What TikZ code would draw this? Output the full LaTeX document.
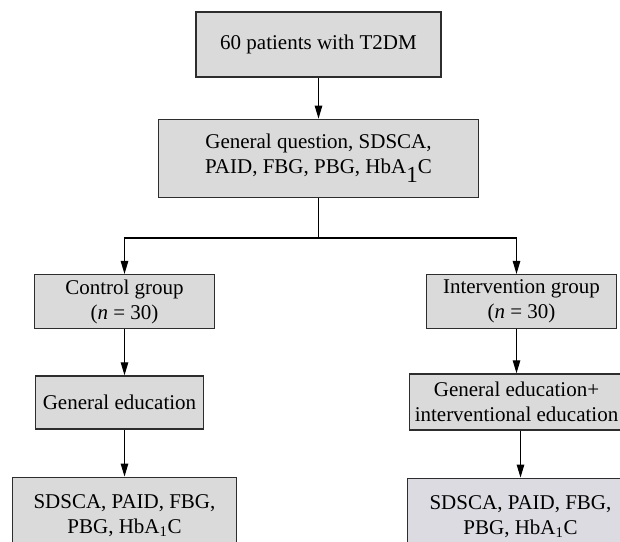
\documentclass[tikz,border=0pt]{standalone}
\usepackage{fontspec}
\usepackage{xcolor}
\setmainfont{Liberation Serif}
\usetikzlibrary{positioning,arrows.meta}
\definecolor{boxgray}{RGB}{218,218,218}
\definecolor{boxlilac}{RGB}{220,219,225}
\definecolor{boxline}{RGB}{45,45,45}
\newcommand{\droppedone}{\raisebox{-9pt}{\fontsize{23}{23}\selectfont 1}}
\tikzstyle{stage} = [rectangle,
                     inner sep=0pt,
                     align=center,
                     draw=boxline,
                     line width=1.3pt,
                     fill=boxgray,
                     font=\fontsize{21}{25}\selectfont]
\tikzstyle{outcome} = [stage,
                       inner xsep=4pt,
                       inner ysep=17pt]
\tikzstyle{arrow} = [line width=1.1pt,
                     -{Triangle[length=13pt,width=7.5pt]}]
\tikzstyle{wire} = [line width=1.1pt]

\begin{document}
\begin{tikzpicture}[x=1pt,y=1pt]

    \useasboundingbox (0,0) rectangle (620,-541);
    \clip (0,0) rectangle (620,-541);

    \node (start)    [stage, minimum width=245pt, minimum height=65pt] at (318.5,-44.5) {60 patients with T2DM};
    \node (base)     [stage, minimum width=320pt, minimum height=78pt, below=41pt of start] {General question, SDSCA,\\PAID, FBG, PBG, HbA\droppedone C};
    \node (ctrl)     [stage, minimum width=180pt, minimum height=54pt, below=76pt of base, xshift=-194pt] {Control group\\(\textit{n} = 30)};
    \node (inter)    [stage, minimum width=190pt, minimum height=54pt, below=76pt of base, xshift=203pt]  {Intervention group\\(\textit{n} = 30)};
    \node (ctrledu)  [stage, minimum width=168pt, minimum height=53pt, below=46pt of ctrl, xshift=-5pt]   {General education};
    \node (interedu) [stage, minimum width=214pt, minimum height=56pt, below=44pt of inter, xshift=-5pt]  {General education+\\interventional education};
    \node (ctrlout)  [outcome, minimum width=224pt, below=47pt of ctrledu, xshift=5pt]                   {SDSCA, PAID, FBG,\\PBG, HbA\textsubscript{1}C};
    \node (interout) [outcome, minimum width=226pt, below=47pt of interedu, xshift=4pt, fill=boxlilac]   {SDSCA, PAID, FBG,\\PBG, HbA\textsubscript{1}C};

    \coordinate (split) at ([yshift=-40pt]base.south);

    \draw [arrow] (start.south) -- (start.south |- base.north);
    \draw [wire]  (base.south) -- (split);
    \draw [arrow] (split) -| (ctrl.north);
    \draw [arrow] (split) -| ([xshift=-5pt]inter.north);
    \draw [arrow] (ctrl.south) -- (ctrl.south |- ctrledu.north);
    \draw [arrow] (inter.south -| interedu.north) -- (interedu.north);
    \draw [arrow] (ctrlout.north |- ctrledu.south) -- (ctrlout.north);
    \draw [arrow] (interout.north |- interedu.south) -- (interout.north);

\end{tikzpicture}
\end{document}
